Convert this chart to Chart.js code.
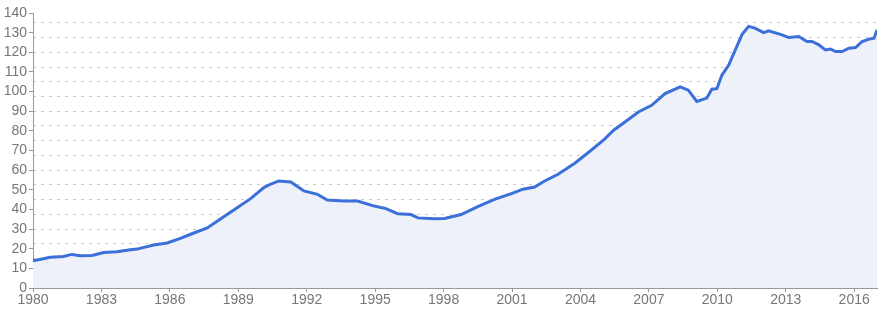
<!DOCTYPE html>
<html>
<head>
<meta charset="utf-8">
<script src="https://cdn.jsdelivr.net/npm/chart.js@4/dist/chart.umd.min.js"></script>
<style>
  html, body { margin: 0; padding: 0; background: #fff; }
  #wrap { width: 880px; height: 312px; }
</style>
</head>
<body>
<div id="wrap"><canvas id="indexChart"></canvas></div>
<script>
// values (year, index level)
var years = [
  1980.0, 1980.4, 1980.75, 1981.33, 1981.7, 1982.07, 1982.58, 1983.1, 1983.68, 1984.26,
  1984.56, 1985.29, 1985.88, 1986.46, 1987.05, 1987.64, 1988.2, 1988.95, 1989.54, 1990.12,
  1990.4, 1990.78, 1991.3, 1991.88, 1992.47, 1992.9, 1993.64, 1994.23, 1994.96, 1995.47,
  1995.99, 1996.57, 1996.87, 1997.6, 1998.04, 1998.77, 1999.5, 2000.23, 2000.97, 2001.48,
  2001.99, 2002.43, 2003.02, 2003.75, 2004.4, 2005.07, 2005.44, 2005.95, 2006.54, 2007.12,
  2007.71, 2008.37, 2008.73, 2009.1, 2009.54, 2009.76, 2009.98, 2010.2, 2010.5, 2011.08,
  2011.37, 2011.65, 2012.03, 2012.25, 2012.84, 2013.13, 2013.57, 2013.93, 2014.15, 2014.45,
  2014.74, 2014.96, 2015.18, 2015.47, 2015.77, 2016.06, 2016.35, 2016.65, 2016.87, 2017.0
];
var values = [
  13.8, 14.8, 15.7, 16.0, 17.1, 16.4, 16.6, 18.1, 18.5, 19.5,
  19.8, 21.9, 22.9, 25.3, 28.0, 30.6, 35.0, 40.9, 45.5, 51.1,
  52.8, 54.5, 54.0, 49.4, 47.7, 44.8, 44.3, 44.3, 41.7, 40.4,
  37.8, 37.4, 35.7, 35.2, 35.4, 37.4, 41.4, 45.1, 48.0, 50.3,
  51.4, 54.5, 57.9, 63.5, 69.5, 75.9, 80.2, 84.5, 89.6, 93.0,
  99.0, 102.4, 100.7, 95.0, 96.7, 101.2, 101.5, 108.4, 113.5, 129.0,
  133.2, 132.3, 130.0, 130.9, 128.9, 127.5, 128.0, 125.5, 125.5, 123.8,
  121.2, 121.7, 120.4, 120.4, 122.1, 122.4, 125.5, 126.7, 127.2, 131.4
];
var xMin = 1980, xMax = 2017, xStep = 3;
var yMin = 0, yMax = 140, yStep = 10;
var gridStep = 7.5; // dotted lines are not on the labelled ticks

var points = [];
for (var i = 0; i < years.length; i++) {
  points.push({ x: years[i], y: values[i] });
}

var font = { family: 'Liberation Sans, Arial, sans-serif', size: 14 };

var ctx = document.getElementById('indexChart').getContext('2d');
new Chart(ctx, {
  type: 'line',
  data: {
    datasets: [{
      data: points,
      borderColor: '#3b6fd9',
      backgroundColor: '#eef1f9',
      borderWidth: 3,
      fill: 'origin',
      pointRadius: 0,
      tension: 0
    }]
  },
  options: {
    responsive: true,
    maintainAspectRatio: false,
    animation: false,
    layout: { padding: { top: 13, right: 3, left: 0, bottom: 0 } },
    plugins: { legend: { display: false }, tooltip: { enabled: false } },
    scales: {
      x: {
        type: 'linear',
        min: xMin,
        max: xMax,
        afterFit: function (s) { s.height = 24; },
        border: { color: '#999', width: 1 },
        grid: { drawOnChartArea: false, drawTicks: true, tickLength: 4, color: '#999' },
        ticks: {
          stepSize: xStep,
          includeBounds: false,
          maxRotation: 0,
          autoSkip: false,
          padding: 0,
          color: '#777',
          font: font,
          callback: function (v) { return v % 3 === 0 ? String(v) : ''; }
        }
      },
      y: {
        min: yMin,
        max: yMax,
        afterFit: function (s) { s.width = 33; },
        border: { color: '#999', width: 1 },
        grid: { drawOnChartArea: false, drawTicks: true, tickLength: 4, color: '#999' },
        ticks: {
          stepSize: yStep,
          autoSkip: false,
          padding: 2,
          color: '#777',
          font: font
        }
      },
      yGrid: {
        position: 'left',
        min: yMin,
        max: yMax,
        afterFit: function (s) { s.width = 0; },
        border: { display: false, dash: [3, 5] },
        grid: {
          drawTicks: false,
          color: function (c) { return c.tick && c.tick.value === 0 ? 'rgba(0,0,0,0)' : '#cccccc'; }
        },
        ticks: { display: false, stepSize: gridStep, includeBounds: false, autoSkip: false }
      }
    }
  }
});
</script>
</body>
</html>
